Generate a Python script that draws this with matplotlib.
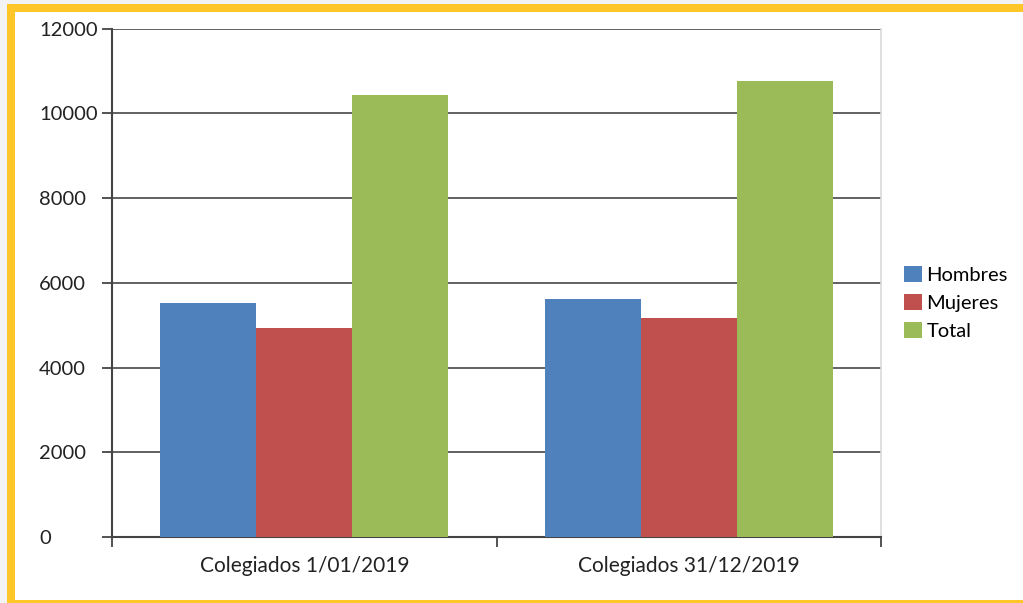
import matplotlib
matplotlib.use("Agg")
from matplotlib import pyplot as plt
from matplotlib.patches import Rectangle
import numpy as np

plt.rcParams['font.family'] = ['Lato', 'DejaVu Sans']

categories = ["Colegiados 1/01/2019", "Colegiados 31/12/2019"]
series = ["Hombres", "Mujeres", "Total"]
hombres = [5520, 5620]
mujeres = [4940, 5160]
total = [10440, 10760]
colors = ["#4F81BD", "#C0504D", "#9BBB59"]
y_ticks = [0, 2000, 4000, 6000, 8000, 10000, 12000]

fig = plt.figure(figsize=(10.23, 6.03), dpi=100, facecolor="#f3f3f3")
# white card with yellow frame (left, top, bottom)
fig.patches.append(Rectangle((7/1023, 0), 1 - 7/1023, 1 - 4/603, transform=fig.transFigure,
                             facecolor="#FFC629", edgecolor="none", zorder=-2))
fig.patches.append(Rectangle((15/1023, 3/603), 1, 1 - 15/603, transform=fig.transFigure,
                             facecolor="white", edgecolor="none", zorder=-1))

ax = fig.add_axes([112/1023, 1 - 537/603, (881 - 112)/1023, (537 - 28.5)/603])
ax.set_facecolor("white")

x = np.arange(len(categories))
w = 0.25
for i, (vals, lab) in enumerate(zip([hombres, mujeres, total], series)):
    ax.bar(x + (i - 1) * w, vals, width=w, color=colors[i], label=lab, zorder=3)

ax.set_xlim(-0.5, 1.5)
ax.set_ylim(0, 12000)
ax.set_yticks(y_ticks)
ax.set_yticklabels([str(v) for v in y_ticks], fontsize=14.5, color="#222222", ha="left")
ax.yaxis.grid(True, color="#555555", linewidth=1.3, zorder=1)

ax.set_xticks([-0.5, 0.5, 1.5])
ax.set_xticklabels([])
ax.set_xticks(x, minor=True)
ax.set_xticklabels(categories, minor=True, fontsize=15, color="#222222")
ax.tick_params(axis="x", which="minor", length=0, pad=14)
ax.tick_params(axis="x", which="major", length=7, width=1.3, color="#444444")
ax.tick_params(axis="y", length=7, width=1.3, color="#444444", pad=45.5)

for s in ["left", "bottom"]:
    ax.spines[s].set_color("#444444")
    ax.spines[s].set_linewidth(1.5)
ax.spines["top"].set_visible(False)
ax.spines["right"].set_color("#d9d9d9")
ax.spines["right"].set_linewidth(1.2)

leg = ax.legend(loc="center left", bbox_to_anchor=(1.02, 0.46), frameon=False, fontsize=14.5,
                handlelength=0.85, handleheight=0.85, handletextpad=0.25, labelspacing=0.5,
                borderaxespad=0)

fig.savefig("out.png", dpi=100, facecolor=fig.get_facecolor())
